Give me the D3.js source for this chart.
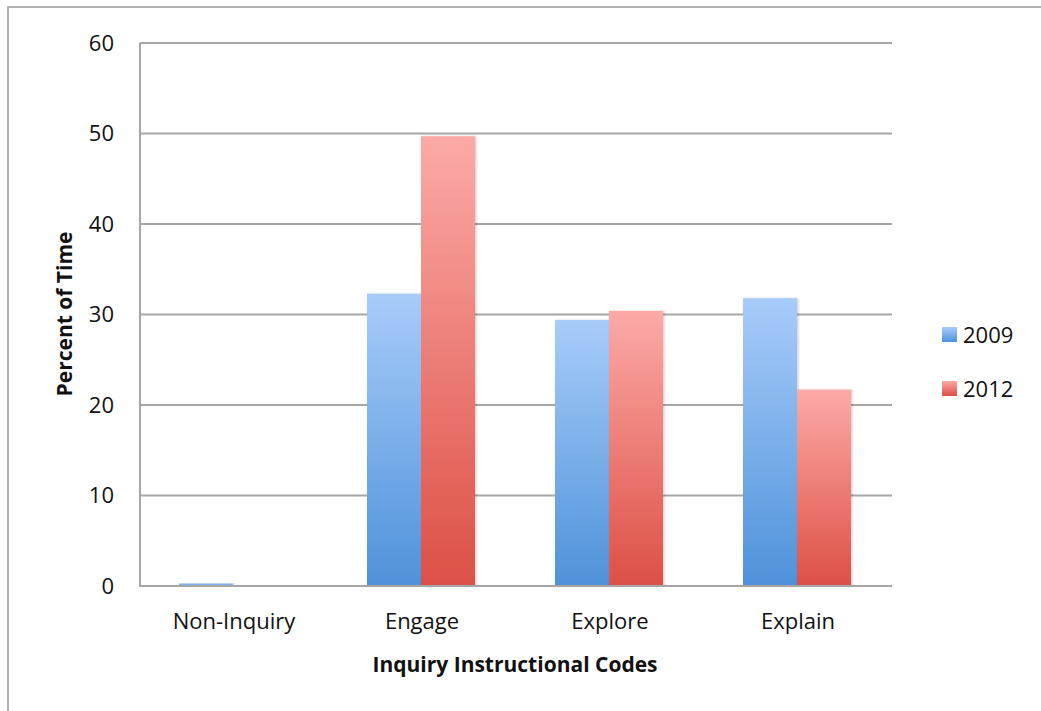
<!DOCTYPE html>
<html>
<head>
<meta charset="utf-8">
<script src="https://cdn.jsdelivr.net/npm/d3@7"></script>
<style>
  body { margin: 0; background: #fff; }
  text { font-family: "Open Sans", sans-serif; fill: #111; }
</style>
</head>
<body>
<svg width="1041" height="711"></svg>
<script>
// data
var categories = ["Non-Inquiry", "Engage", "Explore", "Explain"];
var years = ["2009", "2012"];
var values2009 = [0.3, 32.3, 29.4, 31.8];
var values2012 = [0, 49.7, 30.4, 21.7];
var yTicks = [0, 10, 20, 30, 40, 50, 60];

var svg = d3.select("svg");
var plotLeft = 140, plotRight = 892, plotTop = 43, plotBottom = 586;

// outer frame (only top and left edges show)
svg.append("path")
  .attr("d", "M8,711 V7 H1041")
  .attr("fill", "none")
  .attr("stroke", "#b3b3b3")
  .attr("stroke-width", 2);

var x0 = d3.scaleBand().domain(categories).range([plotLeft, plotRight]).paddingInner(0).paddingOuter(0);
var x1 = d3.scaleBand().domain(years).range([39, x0.bandwidth() - 41]);
var y = d3.scaleLinear().domain([0, 60]).range([plotBottom, plotTop]);

var defs = svg.append("defs");
var grads = [
  {id: "2009", top: "#a8ccfa", bot: "#4e92da"},
  {id: "2012", top: "#fcaaa7", bot: "#dc5045"}
];
grads.forEach(function(g) {
  var lg = defs.append("linearGradient").attr("id", "g" + g.id)
    .attr("x1", 0).attr("x2", 0).attr("y1", 0).attr("y2", 1);
  lg.append("stop").attr("offset", "0%").attr("stop-color", g.top);
  lg.append("stop").attr("offset", "100%").attr("stop-color", g.bot);
});
var shadow = defs.append("filter").attr("id", "shadow")
  .attr("x", "-10%").attr("y", "-10%").attr("width", "130%").attr("height", "120%");
shadow.append("feDropShadow").attr("dx", 1.5).attr("dy", 0).attr("stdDeviation", 1.2)
  .attr("flood-color", "#000").attr("flood-opacity", 0.18);

// gridlines
svg.append("g")
  .selectAll("line")
  .data(yTicks.slice(1))
  .enter()
  .append("line")
    .attr("x1", plotLeft).attr("x2", plotRight)
    .attr("y1", function(d){ return y(d) }).attr("y2", function(d){ return y(d) })
    .attr("stroke", "#a6a6a6")
    .attr("stroke-width", 2);

// bars
var rows = categories.map(function(c, i) {
  return {cat: c, vals: [{year: "2009", v: values2009[i]}, {year: "2012", v: values2012[i]}]};
});
svg.append("g")
  .selectAll("g")
  .data(rows)
  .enter()
  .append("g")
    .attr("transform", function(d){ return "translate(" + x0(d.cat) + ",0)" })
  .selectAll("rect")
  .data(function(d){ return d.vals.filter(function(v){ return v.v > 0 }) })
  .enter()
  .append("rect")
    .attr("x", function(d){ return x1(d.year) })
    .attr("width", x1.bandwidth())
    .attr("y", function(d){ return y(d.v) })
    .attr("height", function(d){ return plotBottom - y(d.v) })
    .attr("fill", function(d){ return "url(#g" + d.year + ")" })
    .attr("filter", "url(#shadow)");

// axes lines
svg.append("path")
  .attr("d", "M" + plotLeft + "," + plotTop + " V" + plotBottom + " H" + plotRight)
  .attr("fill", "none")
  .attr("stroke", "#a6a6a6")
  .attr("stroke-width", 2);

// y tick labels
var yAxis = svg.append("g")
  .attr("transform", "translate(" + plotLeft + ",0)")
  .call(d3.axisLeft(y).tickValues(yTicks).tickSize(0).tickPadding(26));
yAxis.select(".domain").remove();
yAxis.selectAll("text").style("font-size", "22px").style("font-family", "Open Sans, sans-serif").attr("fill", "#111");

// x tick labels
var xAxis = svg.append("g")
  .attr("transform", "translate(0," + plotBottom + ")")
  .call(d3.axisBottom(x0).tickSize(0).tickPadding(27));
xAxis.select(".domain").remove();
xAxis.selectAll("text").style("font-size", "22px").style("font-family", "Open Sans, sans-serif").attr("fill", "#111");

// axis titles
svg.append("text")
  .attr("x", 515).attr("y", 672)
  .attr("text-anchor", "middle")
  .style("font-size", "21px").style("font-weight", "bold")
  .text("Inquiry Instructional Codes");

svg.append("text")
  .attr("transform", "translate(72,314) rotate(-90)")
  .attr("text-anchor", "middle")
  .style("font-size", "21px").style("font-weight", "bold")
  .text("Percent of Time");

// legend
var legend = svg.append("g")
  .selectAll("g")
  .data(years)
  .enter()
  .append("g")
    .attr("transform", function(d, i){ return "translate(942," + (327 + i * 54) + ")" });
legend.append("rect")
  .attr("width", 15).attr("height", 15)
  .attr("fill", function(d){ return "url(#g" + d + ")" });
legend.append("text")
  .attr("x", 21).attr("y", 8)
  .attr("dy", "0.35em")
  .style("font-size", "22px")
  .text(function(d){ return d });
</script>
</body>
</html>
